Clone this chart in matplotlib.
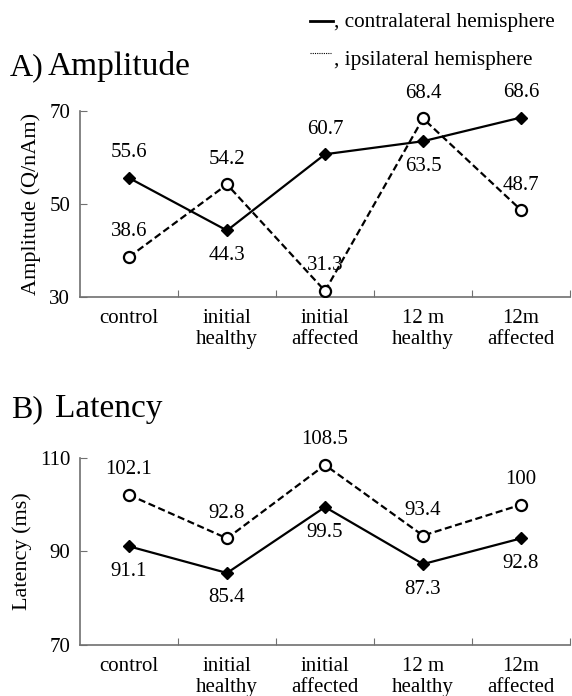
import numpy as np
import matplotlib.pyplot as plt

plt.rcParams['font.family'] = ['Liberation Serif', 'DejaVu Serif']

# data
groups = ['control', 'initial\nhealthy', 'initial\naffected', '12 m\nhealthy', '12m\naffected']
amp_contra = [55.6, 44.3, 60.7, 63.5, 68.6]
amp_ipsi = [38.6, 54.2, 31.3, 68.4, 48.7]
lat_contra = [91.1, 85.4, 99.5, 87.3, 92.8]
lat_ipsi = [102.1, 92.8, 108.5, 93.4, 100.0]
amp_ticks = [30, 50, 70]
lat_ticks = [70, 90, 110]

# label above (+1) or below (-1) each point
amp_contra_side = [1, -1, 1, -1, 1]
amp_ipsi_side = [1, 1, 1, 1, 1]
lat_contra_side = [-1, -1, -1, -1, -1]
lat_ipsi_side = [1, 1, 1, 1, 1]

fig = plt.figure(figsize=(5.72, 6.96), dpi=100)
axA = fig.add_axes([0.1399, 0.5733, 0.8566, 0.2672])
axB = fig.add_axes([0.1399, 0.0733, 0.8566, 0.2687])

x = np.arange(len(groups))
spine_col = '#707070'


def fmt(v):
    return ('%.1f' % v).rstrip('0').rstrip('.')


def panel(ax, contra, ipsi, cside, iside, ticks, ylabel):
    ax.plot(x, contra, '-', color='black', lw=1.6, marker='D', ms=6.5,
            mfc='black', mec='black', zorder=3)
    ax.plot(x, ipsi, '--', color='black', lw=1.6, dashes=(3.2, 1.6),
            marker='o', ms=8, mfc='white', mec='black', mew=1.6, zorder=4)
    for xi, v, s in zip(x, contra, cside):
        ax.annotate(fmt(v), (xi, v), xytext=(0, 18 * s), textcoords='offset points',
                    ha='center', va='center', fontsize=15)
    for xi, v, s in zip(x, ipsi, iside):
        ax.annotate(fmt(v), (xi, v), xytext=(0, 18 * s), textcoords='offset points',
                    ha='center', va='center', fontsize=15)
    ax.set_xlim(-0.5, 4.5)
    ax.set_ylim(ticks[0], ticks[-1])
    ax.set_yticks(ticks)
    ax.set_xticks(x + 0.5)
    ax.set_xticklabels([])
    ax.set_xticks(x, minor=True)
    ax.set_xticklabels(groups, minor=True, fontsize=15, linespacing=1.1)
    ax.tick_params(axis='x', which='major', direction='in', length=5, color=spine_col)
    ax.tick_params(axis='x', which='minor', length=0, pad=9)
    ax.tick_params(axis='y', direction='in', length=5, color=spine_col, pad=7, labelsize=15)
    for s in ['top', 'right']:
        ax.spines[s].set_visible(False)
    for s in ['left', 'bottom']:
        ax.spines[s].set_color(spine_col)
        ax.spines[s].set_linewidth(1.2)
    ax.set_ylabel(ylabel, fontsize=16, labelpad=6)
    ax.patch.set_alpha(0)


panel(axA, amp_contra, amp_ipsi, amp_contra_side, amp_ipsi_side, amp_ticks, 'Amplitude (Q/nAm)')
panel(axB, lat_contra, lat_ipsi, lat_contra_side, lat_ipsi_side, lat_ticks, 'Latency (ms)')

# panel titles
fig.text(10 / 572, 1 - 75 / 696, 'A)', fontsize=23, va='baseline')
fig.text(48 / 572, 1 - 75 / 696, 'Amplitude', fontsize=24, va='baseline')
fig.text(11 / 572, 1 - 417 / 696, 'B)', fontsize=23, va='baseline')
fig.text(55 / 572, 1 - 417 / 696, 'Latency', fontsize=24, va='baseline')

# legend drawn as in the paper
fig.add_artist(plt.Line2D([310 / 572, 333 / 572], [1 - 21 / 696, 1 - 21 / 696],
                          color='black', lw=2, transform=fig.transFigure))
fig.add_artist(plt.Line2D([310 / 572, 331 / 572], [1 - 53 / 696, 1 - 53 / 696],
                          color='black', lw=0.8, ls=(0, (1, 1)), transform=fig.transFigure))
fig.text(334 / 572, 1 - 23 / 696, ', contralateral hemisphere', fontsize=15.3, va='center')
fig.text(334 / 572, 1 - 61 / 696, ', ipsilateral hemisphere', fontsize=15.3, va='center')

fig.savefig('out.png', dpi=100)
